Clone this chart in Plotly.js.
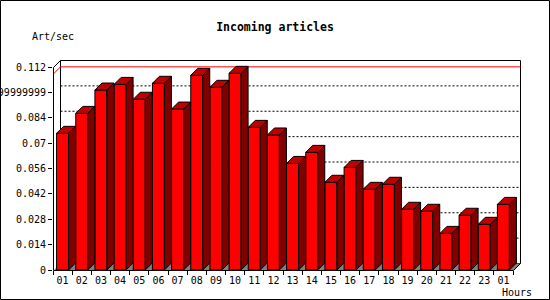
<!DOCTYPE html>
<html>
<head>
<meta charset="utf-8">
<script src="https://cdn.plot.ly/plotly-3.0.1.min.js"></script>
<style>html,body{margin:0;padding:0;background:#fff;}#chart{width:550px;height:300px;}</style>
</head>
<body>
<div id="chart"></div>
<script>
// ---- data ----
const hours = ["01","02","03","04","05","06","07","08","09","10","11","12","13","14","15","16","17","18","19","20","21","22","23","01"];
const artPerSec = [0.0754,0.0864,0.0993,0.1024,0.0942,0.1030,0.0888,0.1074,0.1008,0.1085,0.0787,0.0745,0.0588,0.0649,0.0484,0.0566,0.0445,0.0473,0.0335,0.0324,0.0202,0.0302,0.0252,0.0362];
const yTickVals = [0,0.014,0.028,0.042,0.056,0.07,0.084,0.098,0.112];
const yTickText = ["0","0.014","0.028","0.042","0.056","0.07","0.084","0.09799999999999999","0.112"];

// ---- geometry / style ----
const L = 53, R = 30, T = 60, B = 30, W = 550, H = 300;
const plotW = W - L - R, plotH = H - T - B;
const catPx = 460 / 24;            // pixels per category
const YMAX = 0.112;
const yPx = 203 / YMAX;            // pixels per unit
const DX = 7 / catPx;              // depth in category units
const DY = 7 / yPx;                // depth in y units
const BW = 12 / catPx;             // bar front width
const xMin = -0.5, xMax = xMin + plotW / catPx;
const yMin = 0, yMax = plotH / yPx;
const font = "DejaVu Sans Mono";

const idx = hours.map((_, i) => i);
// paper coordinates, nudged half a pixel for crisp 1px lines
const px = v => (v - xMin) / (xMax - xMin) + 0.5 / plotW;
const py = v => (v - yMin) / (yMax - yMin) - 0.5 / plotH;

// side & top faces built from data
const sx = [], sy = [], tx = [], ty = [];
artPerSec.forEach((v, i) => {
  const x0 = i - BW / 2, x1 = i + BW / 2;
  sx.push(x1, x1 + DX, x1 + DX, x1, x1, null);
  sy.push(0, DY, v + DY, v, 0, null);
  tx.push(x0, x0 + DX, x1 + DX, x1, x0, null);
  ty.push(v, v + DY, v + DY, v, v, null);
});

const traces = [
  {type: "bar", x: idx, y: artPerSec, width: BW,
   marker: {color: "#ff0000", line: {color: "#000", width: 1}}, hoverinfo: "none"},
  {type: "scatter", mode: "lines", x: sx, y: sy, fill: "toself", fillcolor: "#800000",
   line: {color: "#000", width: 1}, hoverinfo: "none", connectgaps: false},
  {type: "scatter", mode: "lines", x: tx, y: ty, fill: "toself", fillcolor: "#c00000",
   line: {color: "#000", width: 1}, hoverinfo: "none", connectgaps: false}
];

const maxV = Math.max(...artPerSec);
const shapes = [];
// back plane
shapes.push({type: "rect", xref: "paper", yref: "paper", layer: "below",
  x0: px(xMin + DX), x1: px(23.5 + DX), y0: py(DY), y1: py(YMAX + DY),
  line: {color: "#000", width: 1}, fillcolor: "#fff"});
// dotted grid lines on back plane
yTickVals.slice(1, -1).forEach(v => {
  shapes.push({type: "line", xref: "paper", yref: "paper", layer: "below",
    x0: px(xMin + DX), x1: px(23.5 + DX), y0: py(v + DY), y1: py(v + DY),
    line: {color: "#000", width: 1, dash: "2px,2px"}});
});
// max line
shapes.push({type: "line", xref: "paper", yref: "paper", layer: "below",
  x0: px(xMin + DX), x1: px(23.5 + DX), y0: py(maxV + DY), y1: py(maxV + DY),
  line: {color: "#ff0000", width: 1}});
shapes.push({type: "line", xref: "paper", yref: "paper", layer: "below",
  x0: px(xMin), x1: px(xMin + DX), y0: py(maxV), y1: py(maxV + DY),
  line: {color: "#ff0000", width: 1}});
// floor
shapes.push({type: "path", xref: "paper", yref: "paper", layer: "below",
  path: `M ${px(xMin)},${py(0)} L ${px(23.5)},${py(0)} L ${px(23.5 + DX)},${py(DY)} L ${px(xMin + DX)},${py(DY)} Z`,
  fillcolor: "#808080", line: {width: 0}});
// front axes & diagonals
shapes.push({type: "line", xref: "paper", yref: "paper", x0: px(xMin), x1: px(23.5), y0: py(0), y1: py(0), line: {color: "#000", width: 1}});
shapes.push({type: "line", xref: "paper", yref: "paper", x0: px(xMin), x1: px(xMin), y0: py(0), y1: py(YMAX), line: {color: "#000", width: 1}});
shapes.push({type: "line", xref: "paper", yref: "paper", x0: px(xMin), x1: px(xMin + DX), y0: py(YMAX), y1: py(YMAX + DY), line: {color: "#000", width: 1}});
shapes.push({type: "line", xref: "paper", yref: "paper", x0: px(23.5), x1: px(23.5 + DX), y0: py(0), y1: py(DY), line: {color: "#000", width: 1}});
// outer border
shapes.push({type: "rect", xref: "paper", yref: "paper",
  x0: (0.5 - L) / plotW, x1: (W - 0.5 - L) / plotW, y0: (H - B - (H - 0.5)) / plotH, y1: (H - B - 0.5) / plotH,
  line: {color: "#000", width: 1}, fillcolor: "rgba(0,0,0,0)"});

const boundaries = [];
for (let i = 0; i <= hours.length; i++) boundaries.push(i - 0.5);

const layout = {
  width: W, height: H,
  margin: {l: L, r: R, t: T, b: B, pad: 0},
  paper_bgcolor: "#fff", plot_bgcolor: "rgba(0,0,0,0)",
  showlegend: false,
  title: {text: "<b>Incoming articles</b>", x: 0.5, xanchor: "center", y: 1 - 27 / H, yanchor: "middle", yref: "container",
    font: {family: font, size: 11.5, color: "#000"}},
  xaxis: {range: [xMin, xMax], tickvals: idx, ticktext: hours, ticks: "outside", ticklen: 1,
    tickcolor: "rgba(0,0,0,0)", showgrid: false, zeroline: false, showline: false,
    tickfont: {family: font, size: 10, color: "#000"},
    minor: {tickvals: boundaries, ticks: "outside", ticklen: 4, tickcolor: "#000", tickwidth: 1, showgrid: false}},
  yaxis: {range: [yMin, yMax], tickvals: yTickVals, ticktext: yTickText, ticks: "outside", ticklen: 4,
    tickcolor: "#000", tickwidth: 1, showgrid: false, zeroline: false, showline: false,
    tickfont: {family: font, size: 10, color: "#000"}},
  shapes: shapes,
  annotations: [
    {text: "Art/sec", xref: "paper", yref: "paper", x: (30 - L) / plotW, y: (H - B - 37) / plotH,
     xanchor: "left", yanchor: "middle", showarrow: false, font: {family: font, size: 10, color: "#000"}},
    {text: "Hours", xref: "paper", yref: "paper", x: (534 - L) / plotW, y: (H - B - 292) / plotH,
     xanchor: "right", yanchor: "middle", showarrow: false, font: {family: font, size: 10, color: "#000"}}
  ]
};

Plotly.newPlot("chart", traces, layout, {staticPlot: true, displayModeBar: false});
</script>
</body>
</html>
